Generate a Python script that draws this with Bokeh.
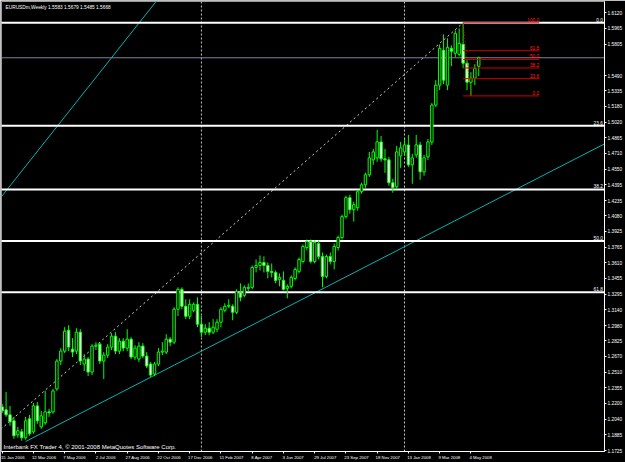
import pandas as pd
from bokeh.plotting import figure
from bokeh.models import ColumnDataSource, FixedTicker, NumeralTickFormatter, Label, Range1d
from bokeh.core.properties import value
from bokeh.embed import file_html
from bokeh.resources import INLINE

# ---------------- data ----------------
symbol_title = "EURUSDm,Weekly  1.5583 1.5679 1.5485 1.5668"
watermark = "Interbank FX Trader 4, \u00a9 2001-2008 MetaQuotes Software Corp."
first_week = "2006-01-15"

opens = [1.2163, 1.2133, 1.2083, 1.2023, 1.1883, 1.1913, 1.1853, 1.2043, 1.1913, 1.2173,
         1.1963, 1.2003, 1.2113, 1.2113, 1.2343, 1.2623, 1.2723, 1.2933, 1.2743, 1.2723,
         1.2913, 1.2593, 1.2643, 1.2513, 1.2773, 1.2793, 1.2623, 1.2683, 1.2763, 1.2873,
         1.2723, 1.2823, 1.2753, 1.2843, 1.2663, 1.2643, 1.2773, 1.2673, 1.2593, 1.2493,
         1.2593, 1.2713, 1.2713, 1.2843, 1.2813, 1.3143, 1.3343, 1.3173, 1.3073, 1.3133,
         1.3193, 1.2993, 1.2913, 1.2953, 1.2913, 1.2943, 1.3013, 1.3133, 1.3173, 1.3173,
         1.3113, 1.3313, 1.3283, 1.3353, 1.3363, 1.3563, 1.3583, 1.3613, 1.3583, 1.3523,
         1.3513, 1.3443, 1.3433, 1.3353, 1.3373, 1.3453, 1.3523, 1.3623, 1.3763, 1.3823,
         1.3623, 1.3803, 1.3673, 1.3473, 1.3673, 1.3623, 1.3763, 1.3863, 1.4073, 1.4263,
         1.4143, 1.4163, 1.4323, 1.4393, 1.4493, 1.4643, 1.4663, 1.4823, 1.4653, 1.4643,
         1.4413, 1.4373, 1.4683, 1.4723, 1.4793, 1.4593, 1.4693, 1.4793, 1.4523, 1.4673,
         1.4823, 1.5193, 1.5393, 1.5743, 1.5393, 1.5763, 1.5713, 1.5703, 1.5803, 1.5613,
         1.5423, 1.5463, 1.5583]
highs = [1.2193, 1.2313, 1.2173, 1.2063, 1.1963, 1.1943, 1.2063, 1.2083, 1.2203, 1.2213,
         1.2123, 1.2323, 1.2143, 1.2343, 1.2643, 1.2753, 1.2963, 1.2983, 1.2853, 1.2953,
         1.2943, 1.2693, 1.2663, 1.2793, 1.2813, 1.2813, 1.2713, 1.2793, 1.2903, 1.2913,
         1.2853, 1.2853, 1.2943, 1.2863, 1.2783, 1.2813, 1.2803, 1.2713, 1.2613, 1.2613,
         1.2753, 1.2813, 1.2893, 1.2863, 1.3163, 1.3363, 1.3363, 1.3243, 1.3243, 1.3213,
         1.3263, 1.3076, 1.2993, 1.3013, 1.3043, 1.3043, 1.3163, 1.3203, 1.3243, 1.3193,
         1.3343, 1.3403, 1.3383, 1.3403, 1.3583, 1.3643, 1.3683, 1.3673, 1.3613, 1.3603,
         1.3533, 1.3503, 1.3523, 1.3393, 1.3483, 1.3563, 1.3663, 1.3793, 1.3843, 1.3843,
         1.3833, 1.3833, 1.3713, 1.3693, 1.3713, 1.3803, 1.3883, 1.4093, 1.4283, 1.4293,
         1.4223, 1.4343, 1.4413, 1.4513, 1.4723, 1.4753, 1.4943, 1.4883, 1.4753, 1.4673,
         1.4453, 1.4783, 1.4823, 1.4853, 1.4893, 1.4703, 1.4893, 1.4823, 1.4693, 1.4853,
         1.5213, 1.5443, 1.5803, 1.5903, 1.5863, 1.5793, 1.5943, 1.5963, 1.6019, 1.5643,
         1.5523, 1.5603, 1.5679]
lows = [1.2103, 1.2063, 1.1973, 1.1843, 1.1853, 1.1823, 1.1833, 1.1873, 1.1893, 1.1993,
        1.1943, 1.1983, 1.2063, 1.2093, 1.2323, 1.2583, 1.2703, 1.2723, 1.2663, 1.2693,
        1.2583, 1.2523, 1.2473, 1.2483, 1.2733, 1.2593, 1.2443, 1.2653, 1.2733, 1.2693,
        1.2693, 1.2723, 1.2723, 1.2643, 1.2633, 1.2613, 1.2653, 1.2553, 1.2463, 1.2473,
        1.2573, 1.2683, 1.2693, 1.2773, 1.2793, 1.3076, 1.3143, 1.3043, 1.3043, 1.3113,
        1.2963, 1.2865, 1.2883, 1.2883, 1.2893, 1.2913, 1.2963, 1.3113, 1.3153, 1.3033,
        1.3093, 1.3223, 1.3263, 1.3323, 1.3343, 1.3513, 1.3533, 1.3513, 1.3453, 1.3463,
        1.3403, 1.3373, 1.3333, 1.3253, 1.3353, 1.3433, 1.3503, 1.3603, 1.3733, 1.3603,
        1.3603, 1.3643, 1.3363, 1.3453, 1.3593, 1.3543, 1.3733, 1.3843, 1.4053, 1.4103,
        1.4023, 1.4133, 1.4303, 1.4363, 1.4473, 1.4593, 1.4623, 1.4623, 1.4513, 1.4383,
        1.4313, 1.4353, 1.4563, 1.4683, 1.4573, 1.4403, 1.4663, 1.4443, 1.4483, 1.4643,
        1.4793, 1.5173, 1.5343, 1.5403, 1.5343, 1.5583, 1.5673, 1.5683, 1.5563, 1.5343,
        1.5285, 1.5393, 1.5485]
closes = [1.2123, 1.2083, 1.2013, 1.1873, 1.1923, 1.1853, 1.2023, 1.1893, 1.2173, 1.2023,
          1.2073, 1.2113, 1.2103, 1.2323, 1.2623, 1.2723, 1.2923, 1.2763, 1.2713, 1.2913,
          1.2623, 1.2643, 1.2513, 1.2773, 1.2783, 1.2623, 1.2683, 1.2763, 1.2873, 1.2723,
          1.2823, 1.2753, 1.2843, 1.2663, 1.2753, 1.2773, 1.2673, 1.2573, 1.2483, 1.2593,
          1.2713, 1.2723, 1.2843, 1.2813, 1.3143, 1.3343, 1.3173, 1.3073, 1.3193, 1.3193,
          1.2993, 1.2913, 1.2953, 1.2913, 1.2963, 1.3013, 1.3143, 1.3173, 1.3183, 1.3113,
          1.3323, 1.3263, 1.3363, 1.3363, 1.3563, 1.3583, 1.3613, 1.3583, 1.3523, 1.3513,
          1.3433, 1.3463, 1.3343, 1.3373, 1.3463, 1.3543, 1.3643, 1.3773, 1.3823, 1.3623,
          1.3813, 1.3673, 1.3473, 1.3673, 1.3623, 1.3773, 1.3863, 1.4073, 1.4263, 1.4143,
          1.4193, 1.4323, 1.4393, 1.4493, 1.4663, 1.4723, 1.4823, 1.4653, 1.4643, 1.4413,
          1.4363, 1.4723, 1.4763, 1.4793, 1.4593, 1.4663, 1.4793, 1.4523, 1.4663, 1.4823,
          1.5193, 1.5393, 1.5763, 1.5443, 1.5773, 1.5733, 1.5913, 1.5813, 1.5613, 1.5423,
          1.5463, 1.5563, 1.5668]

price_ticks = [1.6120, 1.5965, 1.5805, 1.5490, 1.5335, 1.5180, 1.5020, 1.4865, 1.4710,
               1.4550, 1.4395, 1.4235, 1.4080, 1.3925, 1.3765, 1.3610, 1.3455, 1.3295,
               1.3140, 1.2980, 1.2825, 1.2670, 1.2510, 1.2355, 1.2200, 1.2040, 1.1885, 1.1725]
date_tick_labels = ["15 Jan 2006", "12 Mar 2006", "7 May 2006", "2 Jul 2006", "27 Aug 2006",
                    "22 Oct 2006", "17 Dec 2006", "11 Feb 2007", "8 Apr 2007", "3 Jun 2007",
                    "29 Jul 2007", "23 Sep 2007", "18 Nov 2007", "13 Jan 2008", "9 Mar 2008",
                    "4 May 2008"]

fib_levels = [0.0, 23.6, 38.2, 50.0, 61.8, 100.0]
# main (white) Fibonacci: from low (bar, price) to high (bar, price)
fib_main_low = (-9, 1.1640)
fib_main_high = (118, 1.6019)
# short (red) Fibonacci: from high to low
fib_red_high = (118, 1.6019)
fib_red_low = (120, 1.5285)
fib_red_end_bar = 137.5
# trend lines (bar, price) anchors
trend_lower = [(6, 1.1815), (150, 1.4719)]
trend_upper = [(0, 1.4283), (39.6, 1.6243)]

# ---------------- derived ----------------
n = len(opens)
week_dates = pd.date_range(first_week, periods=n, freq="7D")
week_names = [f"{d.day} {d.strftime('%b %Y')}" for d in week_dates]
bars = list(range(n))
date_ticks = [week_names.index(lbl) for lbl in date_tick_labels]
year_seps = [i for i in range(1, n) if week_dates[i].year != week_dates[i - 1].year]

src = ColumnDataSource(dict(
    x=bars, high=highs, low=lows,
    top=[max(o, c) for o, c in zip(opens, closes)],
    bottom=[min(o, c) for o, c in zip(opens, closes)],
    fill=["black" if c >= o else "white" for o, c in zip(opens, closes)],
))

X0, X1 = -0.18, 154.2
Y0, Y1 = 1.1715, 1.6233
PX_PER_BAR = 3.926

p = figure(width=625, height=462, output_backend="svg", toolbar_location=None,
           x_range=Range1d(X0, X1), y_range=Range1d(Y0, Y1),
           y_axis_location="right",
           min_border_left=1, min_border_top=1, min_border_right=18, min_border_bottom=9,
           background_fill_color="black", border_fill_color="black")
p.grid.visible = False
p.outline_line_color = "#9a9a9a"
p.outline_line_width = 1

FONT = "Liberation Sans"

# right price axis
ya = p.yaxis[0]
ya.ticker = FixedTicker(ticks=price_ticks)
ya.formatter = NumeralTickFormatter(format="0.0000")
ya.axis_line_color = "white"
ya.major_tick_line_color = "white"
ya.major_tick_out = 2
ya.major_tick_in = 0
ya.minor_tick_line_color = None
ya.major_label_text_color = "white"
ya.major_label_text_font = FONT
ya.major_label_text_font_size = "4.8px"
ya.major_label_standoff = 1

# bottom time axis: small marks at the bars (minor ticks),
# labels placed so that they start just right of their mark (MT4 style)
label_pos = [round(t + (len(lbl) * 1.75 / 2 + 1.0) / PX_PER_BAR, 2)
             for t, lbl in zip(date_ticks, date_tick_labels)]
xa = p.xaxis[0]
xa.ticker = FixedTicker(ticks=label_pos, minor_ticks=date_ticks)
xa.major_label_overrides = {t: lbl for t, lbl in zip(label_pos, date_tick_labels)}
xa.axis_line_color = "white"
xa.major_tick_line_color = None
xa.major_tick_out = 2
xa.major_tick_in = 0
xa.minor_tick_line_color = "white"
xa.minor_tick_out = 2
xa.minor_tick_in = 0
xa.major_label_text_color = "white"
xa.major_label_text_font = FONT
xa.major_label_text_font_size = "4.3px"
xa.major_label_standoff = 1

# year separators
p.segment(x0=year_seps, x1=year_seps, y0=[Y0] * len(year_seps), y1=[Y1] * len(year_seps),
          line_color="#c8c8c8", line_dash="2 2", line_width=1)

# trend lines
def line_through(a, b, xa_, xb_):
    (x1, y1), (x2, y2) = a, b
    k = (y2 - y1) / (x2 - x1)
    return [xa_, xb_], [y1 + k * (xa_ - x1), y1 + k * (xb_ - x1)]

lx, ly = line_through(trend_lower[0], trend_lower[1], trend_lower[0][0], X1)
p.line(lx, ly, line_color="#00b4b4", line_width=1)
ux, uy = line_through(trend_upper[0], trend_upper[1], X0, trend_upper[1][0] + 2)
p.line(ux, uy, line_color="#00b4b4", line_width=1)

# main fib diagonal
p.line([fib_main_low[0], fib_main_high[0]], [fib_main_low[1], fib_main_high[1]],
       line_color="#d0d0d0", line_dash="2 3", line_width=1)

# main fib levels (white, ray to the right)
rng = fib_main_high[1] - fib_main_low[1]
mlev = [fib_main_high[1] - l / 100 * rng for l in fib_levels]
p.segment(x0=[fib_main_low[0]] * len(mlev), x1=[X1] * len(mlev), y0=mlev, y1=mlev,
          line_color="white", line_width=2)
p.text(x=[X1 - 0.4] * len(mlev), y=mlev, text=[f"{l:.1f}" for l in fib_levels],
       text_align="right", text_baseline="bottom", text_color="white",
       text_font=value(FONT), text_font_size="4.8px", y_offset=-1)

# bid line
p.line([X0, X1], [closes[-1], closes[-1]], line_color="#778899", line_width=1)

# candles
p.segment(x0="x", y0="low", x1="x", y1="high", line_color="#00ff00", line_width=1, source=src)
p.vbar(x="x", width=0.62, top="top", bottom="bottom", fill_color="fill",
       line_color="#00ff00", line_width=1, source=src)

# red fib
rr = fib_red_high[1] - fib_red_low[1]
rlev = [fib_red_low[1] + l / 100 * rr for l in fib_levels]
p.segment(x0=[fib_red_high[0]] * len(rlev), x1=[fib_red_end_bar] * len(rlev), y0=rlev, y1=rlev,
          line_color="#d00000", line_width=1)
p.text(x=[fib_red_end_bar] * len(rlev), y=rlev, text=[f"{l:.1f}" for l in fib_levels],
       text_align="right", text_baseline="bottom", text_color="#ff2020",
       text_font=value(FONT), text_font_size="4.8px", y_offset=-1)
p.line([fib_red_high[0], fib_red_low[0]], [fib_red_high[1], fib_red_low[1]],
       line_color="#ff0000", line_dash="1 2", line_width=1)

# texts
p.add_layout(Label(x=X0, y=Y1, x_offset=4, y_offset=-3, text=symbol_title,
                   text_color="white", text_font=FONT, text_font_size="4.8px",
                   text_baseline="top", text_align="left"))
p.add_layout(Label(x=X0, y=Y0, x_offset=2, y_offset=2, text=watermark,
                   text_color="white", text_font=FONT, text_font_size="6px",
                   text_baseline="bottom", text_align="left"))
p.add_layout(Label(x=X1, y=closes[-1], x_offset=2, text=f"{closes[-1]:.4f}",
                   text_color="black", text_font=FONT, text_font_size="4.8px",
                   text_baseline="middle", text_align="left",
                   background_fill_color="white"))

open("out.html", "w").write(file_html(p, INLINE))
